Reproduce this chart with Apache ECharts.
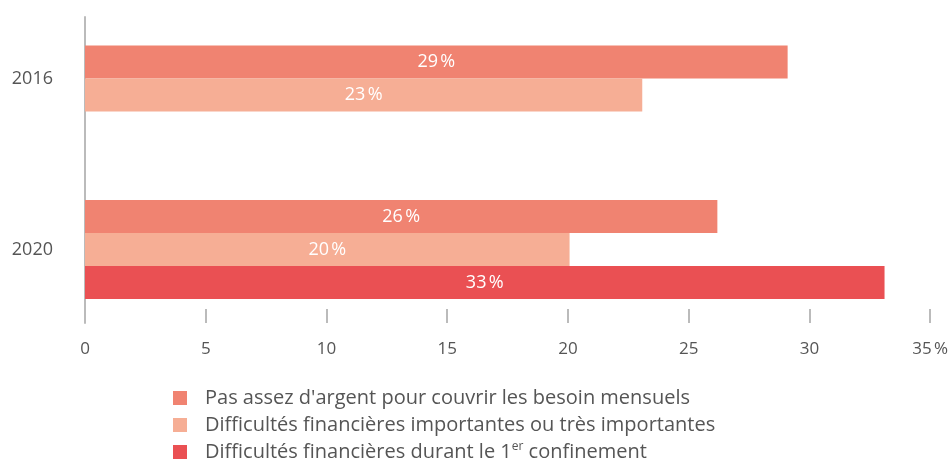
<!DOCTYPE html>
<html>
<head>
<meta charset="utf-8">
<script src="https://cdn.jsdelivr.net/npm/echarts@6/dist/echarts.min.js"></script>
<style>
  html, body { margin: 0; padding: 0; background: #fff; }
  #chart { width: 951px; height: 463px; }
</style>
</head>
<body>
<div id="chart"></div>
<script>
    // donnees
    var years = ['2016', '2020'];
    var seriesNames = [
        'Pas assez d\'argent pour couvrir les besoin mensuels',
        'Difficultés financières importantes ou très importantes',
        'Difficultés financières durant le 1er confinement'
    ];
    var pasAssez = [29, 26.1];
    var difficultes = [23, 20];
    var confinement = [null, 33];
    var xTicks = [0, 5, 10, 15, 20, 25, 30, 35];

    var colors = ['#F08371', '#F6AE95', '#EA5053'];
    var font = 'Open Sans';
    var nsp = '\u202f';

    // 2016 n'a que deux barres : on les groupe sur un axe a part pour qu'elles restent centrees
    function only(arr, idx) {
        return arr.map(function (v, i) { return i === idx ? v : '-'; });
    }

    var barLabel = {
        show: true,
        position: 'inside',
        color: '#fff',
        fontFamily: font,
        fontSize: 18,
        formatter: function (p) { return Math.round(p.value) + nsp + '%'; }
    };

    function bar(nameIdx, yIdx, data) {
        return {
            name: seriesNames[nameIdx],
            type: 'bar',
            xAxisIndex: 1,
            yAxisIndex: yIdx,
            data: data,
            barWidth: 33,
            barGap: '0%',
            clip: false,
            itemStyle: {color: colors[nameIdx]},
            label: barLabel,
            silent: true
        };
    }

    var option = {
        backgroundColor: '#fff',
        animation: false,
        textStyle: {fontFamily: font},
        legend: {
            orient: 'vertical',
            left: 173,
            top: 387,
            padding: 0,
            itemWidth: 14,
            itemHeight: 14,
            itemGap: 5,
            icon: 'rect',
            data: seriesNames,
            textStyle: {
                fontFamily: font,
                fontSize: 20,
                lineHeight: 22,
                color: '#555',
                padding: [0, 0, 0, 13],
                rich: {
                    sup: {fontSize: 12, verticalAlign: 'top', lineHeight: 22, color: '#555', fontFamily: font}
                }
            },
            formatter: function (name) {
                return name.replace('1er', '1{sup|er}');
            }
        },
        grid: [
            // cadre : axe vertical et graduations
            {left: 85, right: 18, top: 17, bottom: 140},
            // barres : les centres des categories tombent sur les bords (boundaryGap false)
            {left: 85, right: 18, top: 78.5, bottom: 213.5}
        ],
        xAxis: [
            {
                type: 'value',
                gridIndex: 0,
                min: xTicks[0],
                max: xTicks[xTicks.length - 1],
                interval: 5,
                axisLine: {show: false},
                axisTick: {show: true, inside: true, length: 14, lineStyle: {color: '#bbb', width: 2}},
                splitLine: {show: false},
                axisLabel: {
                    color: '#555',
                    fontFamily: font,
                    fontSize: 17,
                    margin: 18,
                    formatter: function (v) { return v === 35 ? v + nsp + '%' : v; }
                }
            },
            {
                type: 'value',
                gridIndex: 1,
                min: 0,
                max: 35,
                show: false
            }
        ],
        yAxis: [
            {
                type: 'value',
                gridIndex: 0,
                min: 0,
                max: 1,
                axisLine: {show: true, lineStyle: {color: '#bbb', width: 2}},
                axisTick: {show: false},
                axisLabel: {show: false},
                splitLine: {show: false}
            },
            {
                type: 'category',
                gridIndex: 1,
                inverse: true,
                boundaryGap: false,
                data: years,
                axisLine: {show: false},
                axisTick: {show: false},
                splitLine: {show: false},
                axisLabel: {color: '#555', fontFamily: font, fontSize: 18, margin: 32}
            },
            {
                type: 'category',
                gridIndex: 1,
                inverse: true,
                boundaryGap: false,
                data: years,
                show: false
            }
        ],
        series: [
            bar(0, 1, only(pasAssez, 0)),
            bar(1, 1, only(difficultes, 0)),
            bar(0, 2, only(pasAssez, 1)),
            bar(1, 2, only(difficultes, 1)),
            bar(2, 2, only(confinement, 1))
        ]
    };

    var myChart = echarts.init(document.getElementById('chart'));
    myChart.setOption(option);
</script>
</body>
</html>
